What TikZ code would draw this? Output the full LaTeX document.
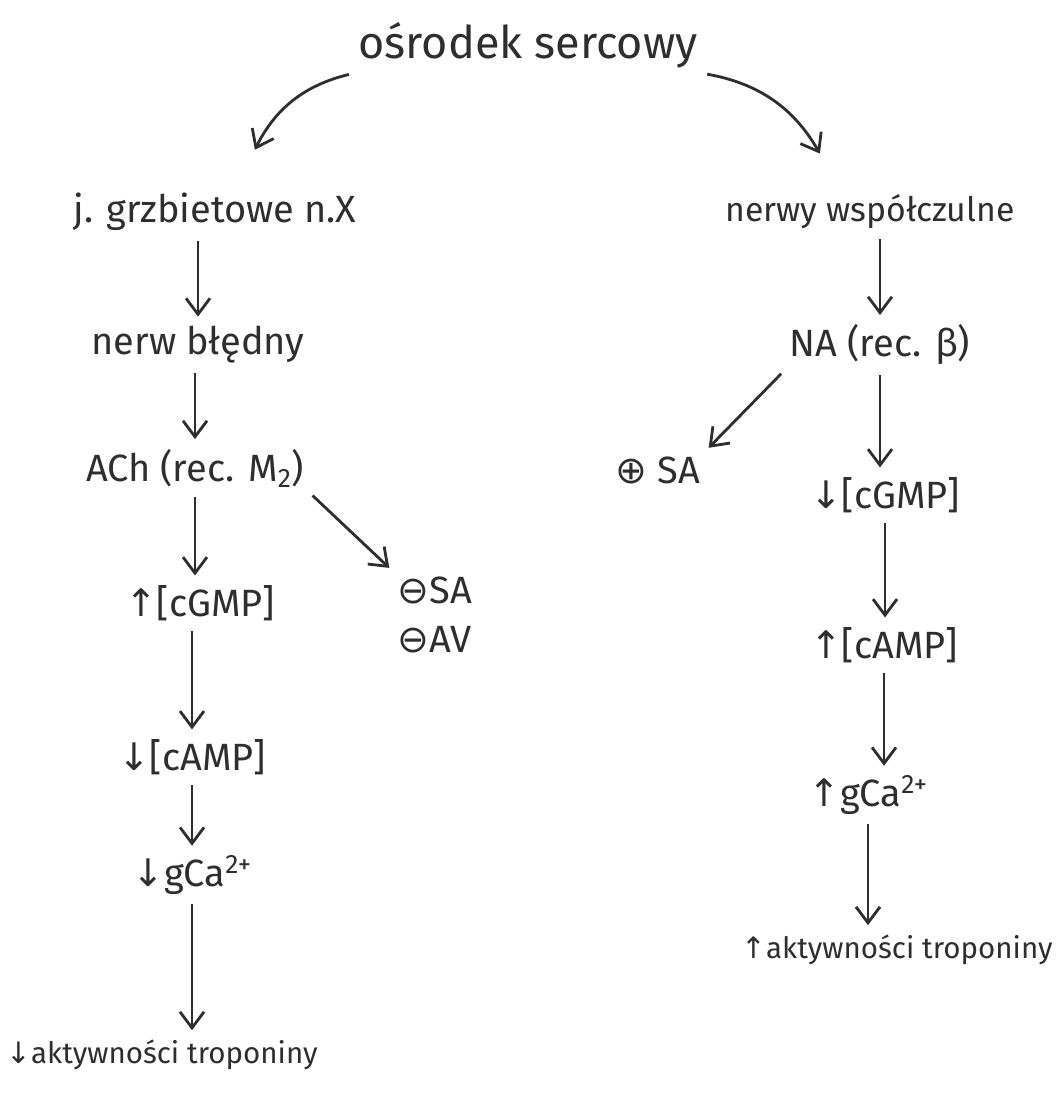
\documentclass[tikz,border=0pt]{standalone}
\usepackage{fontspec}
\setmainfont{Fira Sans}
\newfontfamily\symfont{DejaVu Sans}
\usetikzlibrary{arrows.meta, positioning}
\definecolor{cink}{HTML}{2E2E2E}
\newcommand{\up}{{\symfont ↑}}
\newcommand{\dn}{{\symfont ↓}}
\tikzset{
  every picture/.style={line width=2pt},
  lbl/.style={font=\fontsize{27}{32}\selectfont, text=cink, inner sep=3pt},
  ttl/.style={font=\fontsize{32}{38}\selectfont, text=cink, inner sep=3pt},
  small/.style={font=\fontsize{21}{25}\selectfont, text=cink, inner sep=3pt},
  arr/.style={-{Straight Barb[length=4mm, width=6mm]}, draw=cink, line width=2pt, shorten <=3pt, shorten >=3pt},
}

\begin{document}
\begin{tikzpicture}[x=0.025cm, y=-0.025cm]
  \useasboundingbox (0,0) rectangle (1056,1102);
  \node[ttl] (title) at (528,45) {ośrodek sercowy};
  % left branch
  \node[lbl] (jg) at (215,212) {j. grzbietowe n.X};
  \node[lbl] (nb) at (198,345) {nerw błędny};
  \node[lbl] (ach) at (195,468) {ACh (rec. M\textsubscript{2})};
  \node[lbl] (lcg) at (200,603) {\up[cGMP]};
  \node[lbl] (lca) at (192,757) {\dn[cAMP]};
  \node[lbl] (lgca) at (192,875) {\dn gCa\textsuperscript{2+}};
  \node[small] (ltr) at (162,1055) {\dn aktywności troponiny};
  \node[lbl] (msa) at (435,590) {{\symfont ⊖}SA};
  \node[lbl] (mav) at (435,640) {{\symfont ⊖}AV};
  % right branch
  \node[lbl, font=\fontsize{24}{29}\selectfont] (nw) at (870,212) {nerwy współczulne};
  \node[lbl] (na) at (880,345) {NA (rec. β)};
  \node[lbl] (psa) at (658,470) {{\symfont ⊕} SA};
  \node[lbl] (rcg) at (885,495) {\dn[cGMP]};
  \node[lbl] (rca) at (884,645) {\up[cAMP]};
  \node[lbl] (rgca) at (868,795) {\up gCa\textsuperscript{2+}};
  \node[small] (rtr) at (897,950) {\up aktywności troponiny};
  % connectors
  \draw[arr] (title.south west) to[bend right=25] ([xshift=0.95cm, yshift=0.85cm]jg.north);
  \draw[arr] (title.south east) to[bend left=25] ([xshift=-1.2cm, yshift=0.8cm]nw.north);
  \draw[arr] (nb.north |- jg.south) -- (nb.north);
  \draw[arr] (ach.north |- nb.south) -- (ach.north);
  \draw[arr] (ach.south) -- (ach.south |- lcg.north);
  \draw[arr] (lca.north |- lcg.south) -- (lca.north);
  \draw[arr] (lgca.north |- lca.south) -- (lgca.north);
  \draw[arr] (lgca.south) -- (lgca.south |- ltr.north);
  \draw[arr] (ach.south east) -- (msa.north west);
  \draw[arr] (na.north |- nw.south) -- (na.north);
  \draw[arr] (na.south west) -- (psa.north east);
  \draw[arr] (na.south) -- (na.south |- rcg.north);
  \draw[arr] (rcg.south) -- (rcg.south |- rca.north);
  \draw[arr] (rca.south) -- (rca.south |- rgca.north);
  \draw[arr] (rgca.south) -- (rgca.south |- rtr.north);
\end{tikzpicture}
\end{document}
